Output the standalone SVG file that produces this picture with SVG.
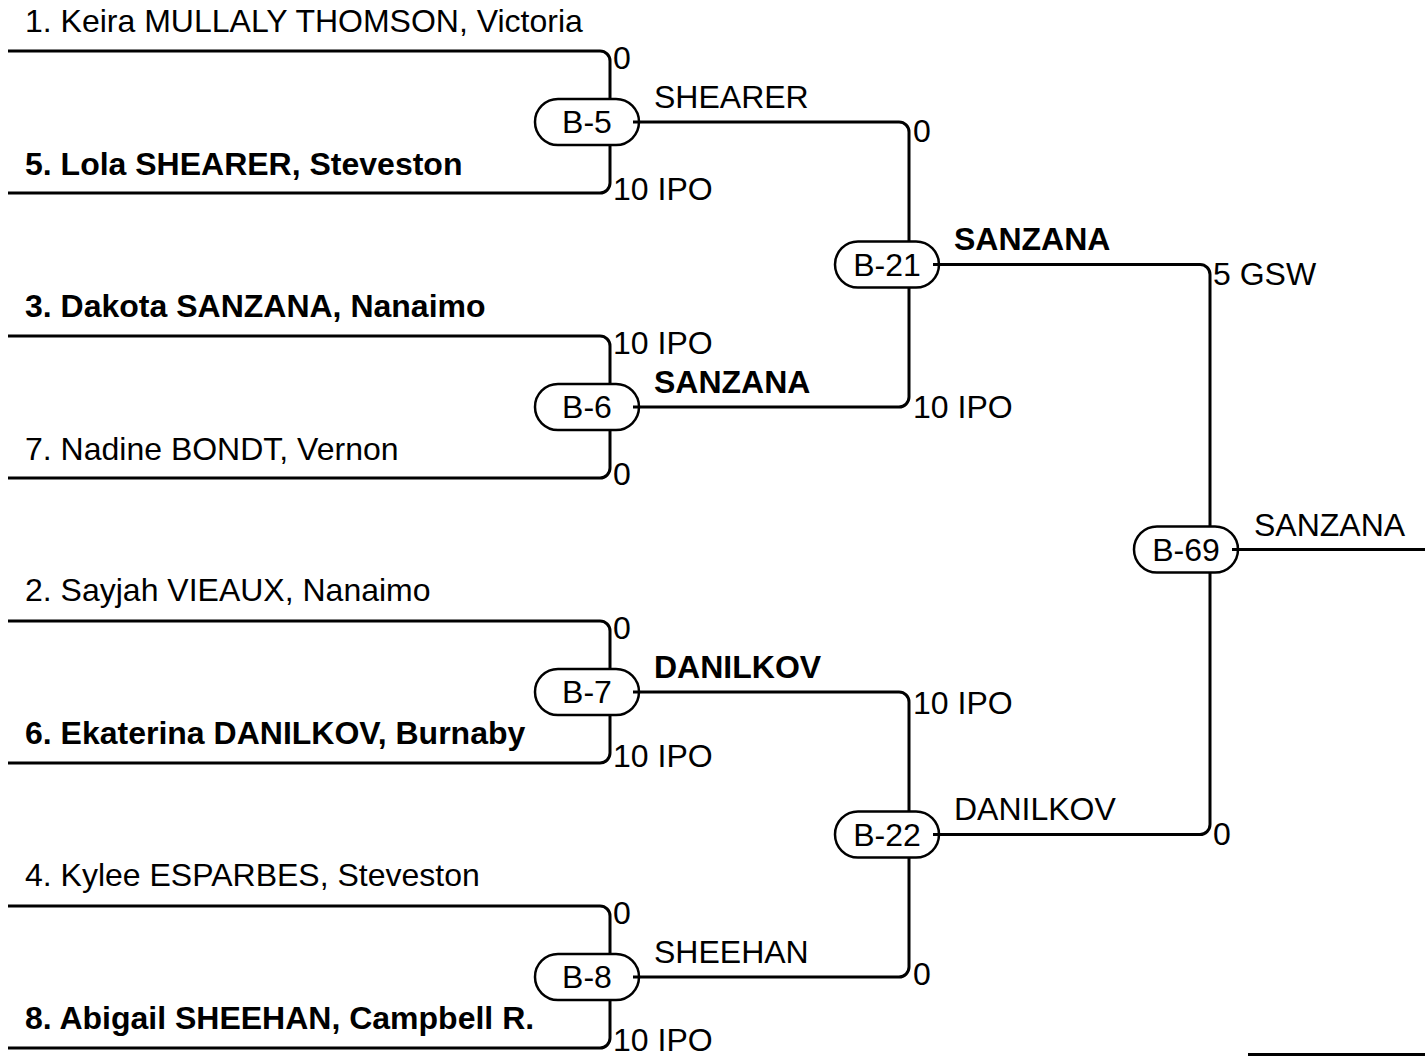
<svg xmlns="http://www.w3.org/2000/svg" width="1425" height="1056" viewBox="0 0 1425 1056">
<style>
text{font-family:"Liberation Sans",Arial,sans-serif;font-size:32px;fill:#000}
.b{font-weight:bold}
.nt{text-anchor:middle}
.pill{fill:#fff;stroke:#000;stroke-width:2.5}
.ln{fill:none;stroke:#000;stroke-width:3}
</style>
<rect width="1425" height="1056" fill="#fff"/>
<g id="nodes">
<g id="B-5"><rect class="pill" x="535" y="99" width="104" height="46" rx="23"/><text class="nt" x="587" y="133">B-5</text></g>
<g id="B-6"><rect class="pill" x="535" y="384" width="104" height="46" rx="23"/><text class="nt" x="587" y="418">B-6</text></g>
<g id="B-7"><rect class="pill" x="535" y="669" width="104" height="46" rx="23"/><text class="nt" x="587" y="703">B-7</text></g>
<g id="B-8"><rect class="pill" x="535" y="954" width="104" height="46" rx="23"/><text class="nt" x="587" y="988">B-8</text></g>
<g id="B-21"><rect class="pill" x="835" y="241.5" width="104" height="46" rx="23"/><text class="nt" x="887" y="275.5">B-21</text></g>
<g id="B-22"><rect class="pill" x="835" y="811.5" width="104" height="46" rx="23"/><text class="nt" x="887" y="845.5">B-22</text></g>
<g id="B-69"><rect class="pill" x="1134" y="526.5" width="104" height="46" rx="23"/><text class="nt" x="1186" y="560.5">B-69</text></g>
</g>
<g id="connectors">
<path class="ln" d="M8,51 H600 A10,10 0 0 1 610,61 V99 M610,145 V183 A10,10 0 0 1 600,193 H8"/>
<path class="ln" d="M8,336 H600 A10,10 0 0 1 610,346 V384 M610,430 V468 A10,10 0 0 1 600,478 H8"/>
<path class="ln" d="M8,621 H600 A10,10 0 0 1 610,631 V669 M610,715 V753 A10,10 0 0 1 600,763 H8"/>
<path class="ln" d="M8,906 H600 A10,10 0 0 1 610,916 V954 M610,1000 V1038 A10,10 0 0 1 600,1048 H8"/>
<path class="ln" d="M633,122 H899 A10,10 0 0 1 909,132 V241.5 M909,287.5 V397 A10,10 0 0 1 899,407 H633"/>
<path class="ln" d="M633,692 H899 A10,10 0 0 1 909,702 V811.5 M909,857.5 V967 A10,10 0 0 1 899,977 H633"/>
<path class="ln" d="M933,264.5 H1200 A10,10 0 0 1 1210,274.5 V526.5 M1210,572.5 V824.5 A10,10 0 0 1 1200,834.5 H933"/>
<path class="ln" d="M1232,549.5 H1425"/>
<path class="ln" d="M1248,1054.5 H1425"/>
</g>
<g id="labels">
<text x="25" y="32">1. Keira MULLALY THOMSON, Victoria</text>
<text class="b" x="25" y="175">5. Lola SHEARER, Steveston</text>
<text class="b" x="25" y="317">3. Dakota SANZANA, Nanaimo</text>
<text x="25" y="460">7. Nadine BONDT, Vernon</text>
<text x="25" y="601">2. Sayjah VIEAUX, Nanaimo</text>
<text class="b" x="25" y="744">6. Ekaterina DANILKOV, Burnaby</text>
<text x="25" y="886">4. Kylee ESPARBES, Steveston</text>
<text class="b" x="25" y="1029">8. Abigail SHEEHAN, Campbell R.</text>
<text x="613" y="69">0</text>
<text x="613" y="200">10 IPO</text>
<text x="613" y="354">10 IPO</text>
<text x="613" y="485">0</text>
<text x="613" y="639">0</text>
<text x="613" y="767">10 IPO</text>
<text x="613" y="924">0</text>
<text x="613" y="1051">10 IPO</text>
<text x="913" y="142">0</text>
<text x="913" y="418">10 IPO</text>
<text x="913" y="714">10 IPO</text>
<text x="913" y="985">0</text>
<text x="1213" y="285">5 GSW</text>
<text x="1213" y="845">0</text>
<text x="654" y="108">SHEARER</text>
<text class="b" x="654" y="393">SANZANA</text>
<text class="b" x="654" y="678">DANILKOV</text>
<text x="654" y="963">SHEEHAN</text>
<text class="b" x="954" y="250">SANZANA</text>
<text x="954" y="820">DANILKOV</text>
<text x="1254" y="536">SANZANA</text>
</g>
</svg>
